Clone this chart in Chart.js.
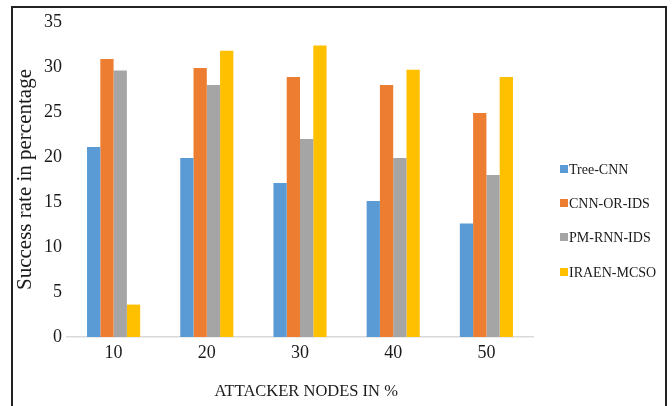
<!DOCTYPE html>
<html>
<head>
<meta charset="utf-8">
<script src="https://cdn.jsdelivr.net/npm/chart.js@4/dist/chart.umd.min.js"></script>
<style>
  html, body { margin: 0; padding: 0; background: #fff; }
  #wrap { position: relative; width: 672px; height: 406px; overflow: hidden; }
  #frame {
    position: absolute; left: 11px; top: 6px; width: 652px; height: 420px;
    border-top: 2px solid #222; border-left: 2px solid #222; border-right: 2px solid #222;
    pointer-events: none;
  }
  canvas { position: absolute; left: 0; top: 0; }
</style>
</head>
<body>
<div id="wrap">
  <canvas id="c" width="672" height="406"></canvas>
  <div id="frame"></div>
</div>
<script>
// Attacker share (%) on the x axis
const categories = ['10', '20', '30', '40', '50'];

// Success rate (%) for each method
const treeCnn   = [21.1, 19.9, 17.1, 15.1, 12.6];
const cnnOrIds  = [30.9, 29.9, 28.9, 28.0, 24.9];
const pmRnnIds  = [29.6, 28.0, 22.0, 19.9, 18.0];
const iraenMcso = [3.6, 31.8, 32.4, 29.7, 28.9];

const seriesNames  = ['Tree-CNN', 'CNN-OR-IDS', 'PM-RNN-IDS', 'IRAEN-MCSO'];
const seriesColors = ['#5B9BD5', '#ED7D31', '#A5A5A5', '#FFC000'];
const seriesData   = [treeCnn, cnnOrIds, pmRnnIds, iraenMcso];

const FONT = '"Liberation Serif", "Times New Roman", serif';
const TEXT = '#1a1a1a';

// Vertical legend at the right, square swatch + label
const sideLegend = {
  id: 'sideLegend',
  afterDraw(chart) {
    const ctx = chart.ctx;
    const ys = [169, 203, 237, 272];
    ctx.save();
    ctx.font = '14px ' + FONT;
    ctx.textBaseline = 'middle';
    ctx.textAlign = 'left';
    chart.data.datasets.forEach((ds, i) => {
      ctx.fillStyle = ds.backgroundColor;
      ctx.fillRect(560, ys[i] - 4, 8, 8);
      ctx.fillStyle = TEXT;
      ctx.fillText(ds.label, 569, ys[i] + 1);
    });
    ctx.restore();
  }
};

new Chart(document.getElementById('c'), {
  type: 'bar',
  data: {
    labels: categories,
    datasets: seriesNames.map((name, i) => ({
      label: name,
      data: seriesData[i],
      backgroundColor: seriesColors[i],
      borderWidth: 0,
      categoryPercentage: 0.57,
      barPercentage: 1.0
    }))
  },
  options: {
    responsive: false,
    animation: false,
    devicePixelRatio: 1,
    layout: { padding: { left: 0, top: 22, right: 139, bottom: 0 } },
    plugins: { legend: { display: false }, tooltip: { enabled: false } },
    scales: {
      x: {
        grid: { display: false, drawTicks: false },
        border: { display: true, color: '#d9d9d9', width: 1.5 },
        ticks: { color: TEXT, font: { family: FONT, size: 18 }, padding: 5 },
        title: {
          display: true, text: '\u00A0\u00A0\u00A0ATTACKER NODES IN %', color: TEXT,
          font: { family: FONT, size: 16.5 }, padding: { top: 0, bottom: 4 }
        },
        afterFit(s) { s.height = 69; }
      },
      y: {
        min: 0, max: 35,
        grid: { display: false, drawTicks: false },
        border: { display: false },
        ticks: { stepSize: 5, color: TEXT, font: { family: FONT, size: 18 }, padding: 5 },
        title: {
          display: true, text: 'Success rate in percentage', color: TEXT,
          font: { family: FONT, size: 21 }, padding: { top: 13, bottom: 0 }
        },
        afterFit(s) { s.width = 67; }
      }
    }
  },
  plugins: [sideLegend]
});
</script>
</body>
</html>
